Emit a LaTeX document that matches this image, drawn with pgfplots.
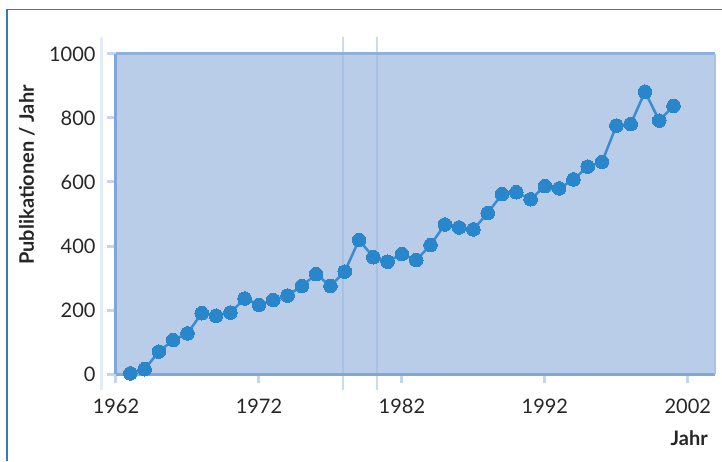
\documentclass[border=0pt]{standalone}
\usepackage{pgfplots}
\pgfplotsset{compat=1.18}
\usepackage{fontspec}
\setmainfont{Lato}
\definecolor{bgcol}{HTML}{B9CDE8}
\definecolor{markcol}{HTML}{2A86CA}
\definecolor{linecol}{HTML}{3C8ACF}
\definecolor{leftcol}{HTML}{7FA7DA}
\definecolor{topcol}{HTML}{8DB0DD}
\definecolor{rightcol}{HTML}{A9C2E6}
\definecolor{tickcol}{HTML}{C4D6EF}
\definecolor{framecol}{HTML}{2F7DBA}
\definecolor{faintcol}{HTML}{E4ECF7}
\definecolor{vlinecol}{HTML}{CCDBF0}
\definecolor{vlinein}{HTML}{A9C1E5}
\begin{document}
\begin{tikzpicture}[x=1pt,y=1pt]
\useasboundingbox (0,0) rectangle (722,461);
\draw[framecol, line width=1.5pt] (7,0) -- (7,451.5) -- (722,451.5);
\draw[faintcol, line width=2.5pt] (101.5,424) -- (101.5,71);
\draw[vlinecol, line width=2pt] (342.7,424) -- (342.7,71);
\draw[vlinecol, line width=2pt] (377.3,424) -- (377.3,71);
\begin{axis}[
  at={(116pt,87pt)}, anchor=south west, scale only axis,
  width=599pt, height=320pt,
  xmin=1962, xmax=2003.9, ymin=0, ymax=1000,
  axis background/.style={fill=bgcol},
  axis line style={draw=none},
  xtick={1962,1972,1982,1992,2002},
  ytick={0,200,400,600,800,1000},
  xtick pos=bottom, ytick pos=left,
  tick align=outside, major tick length=9pt,
  tick style={line width=3pt, color=tickcol},
  /pgf/number format/1000 sep={},
  /pgf/number format/assume math mode=true,
  ticklabel style={font=\fontsize{20}{24}\selectfont, text=black!85},
  yticklabel style={xshift=-8pt},
  xticklabel style={yshift=-12pt},
  xlabel={Jahr}, ylabel={Publikationen / Jahr},
  label style={font=\fontsize{20}{24}\selectfont\bfseries, text=black!85},
  xlabel style={at={(axis description cs:0.957,0)}, anchor=center, yshift=-64pt},
  ylabel style={at={(axis description cs:0,0.622)}, anchor=center, yshift=89pt},
  clip=false,
]
\draw[vlinein, line width=2pt] (axis cs:1977.86,0) -- (axis cs:1977.86,1000);
\draw[vlinein, line width=2pt] (axis cs:1980.28,0) -- (axis cs:1980.28,1000);
\draw[leftcol, line width=3pt] (rel axis cs:0,0) -- (rel axis cs:0,1);
\draw[leftcol, line width=3pt] (rel axis cs:0,0) -- (rel axis cs:1,0);
\draw[topcol, line width=3pt] (rel axis cs:0,1) -- (rel axis cs:1,1);
\draw[rightcol, line width=2pt] (rel axis cs:1,0) -- (rel axis cs:1,1);
\addplot[color=linecol, line width=2.5pt, mark=*, mark size=6.8pt,
  mark options={fill=markcol, draw=markcol, line width=0pt}] coordinates {
(1963,2) (1964,15) (1965,70) (1966,106) (1967,127) (1968,190) (1969,182)
(1970,192) (1971,236) (1972,216) (1973,231) (1974,245) (1975,275) (1976,312)
(1977,275) (1978,320) (1979,419) (1980,365) (1981,351) (1982,375) (1983,356)
(1984,403) (1985,467) (1986,458) (1987,452) (1988,503) (1989,562) (1990,568)
(1991,546) (1992,587) (1993,580) (1994,608) (1995,648) (1996,663) (1997,776)
(1998,781) (1999,882) (2000,792) (2001,838)
};
\end{axis}
\end{tikzpicture}
\end{document}
